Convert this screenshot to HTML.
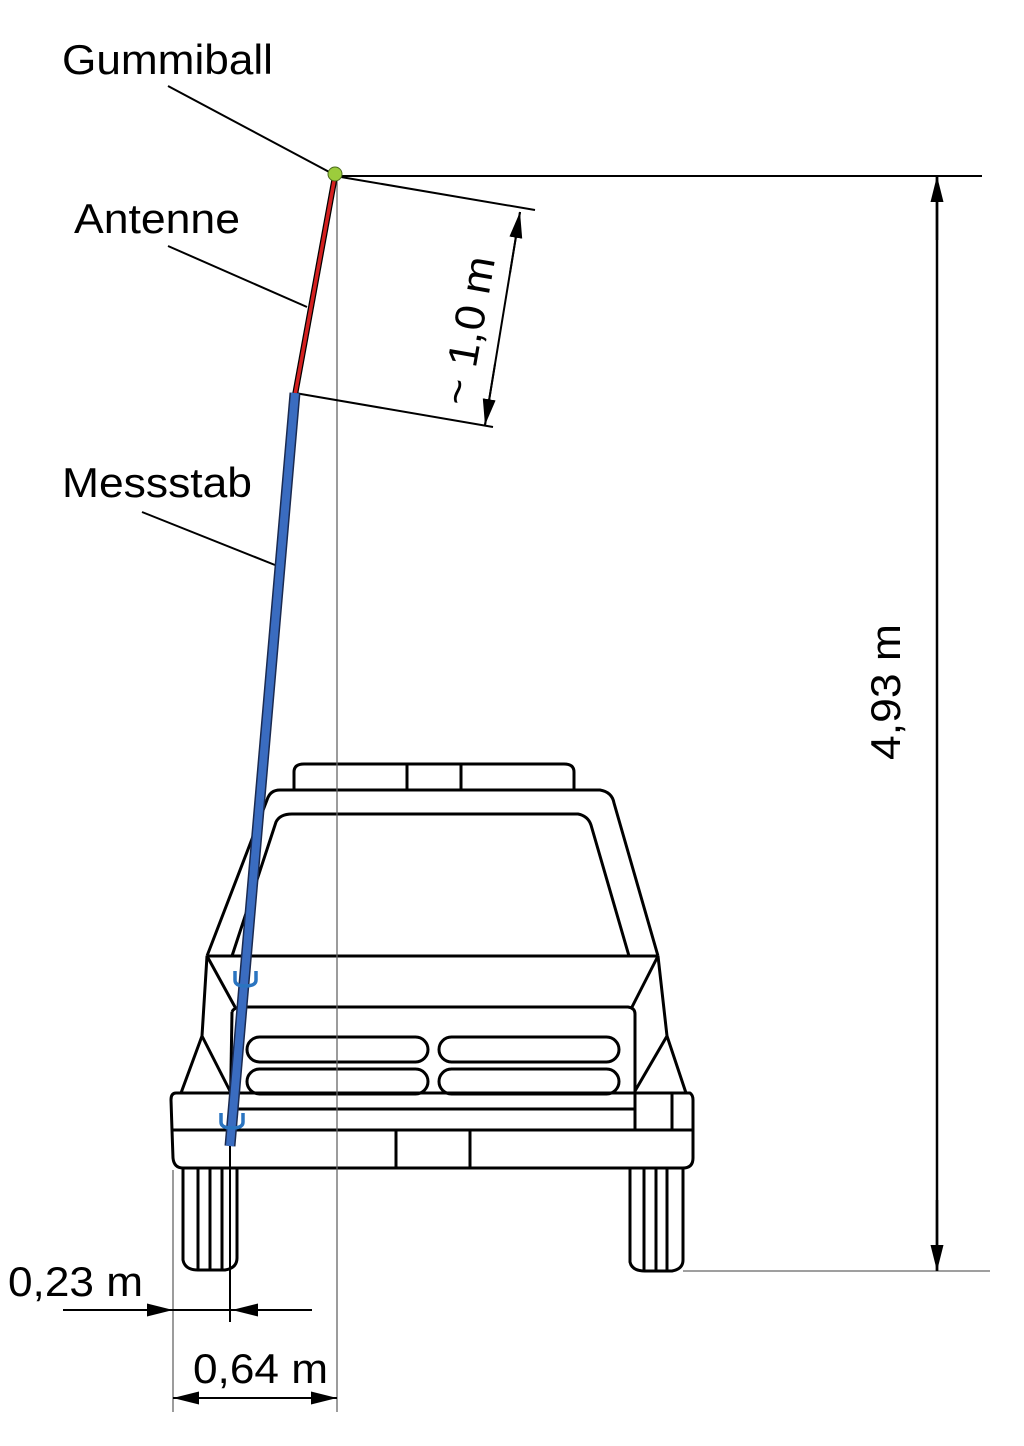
<!DOCTYPE html>
<html><head><meta charset="utf-8"><style>html,body{margin:0;padding:0;background:#fff}svg{display:block}</style></head>
<body>
<svg width="1024" height="1446" viewBox="0 0 1024 1446" xmlns="http://www.w3.org/2000/svg" font-family="Liberation Sans, sans-serif">
<defs>
<marker id="ar" viewBox="0 0 24 12" refX="24" refY="6" markerWidth="26" markerHeight="13" markerUnits="userSpaceOnUse" orient="auto"><path d="M0,0 L24,6 L0,12 z" fill="#000"/></marker>
</defs>
<g fill="none" stroke="#000" stroke-width="3" stroke-linejoin="round">
<path d="M294,789 L294,772 Q294,764 304,764 L564,764 Q574,764 574,772 L574,789"/>
<line x1="407" y1="764" x2="407" y2="789"/><line x1="461" y1="764" x2="461" y2="789"/>
<path d="M207,956 L267,800 Q270,790 280,790 L600,790 Q612,792 614,803 L658,956"/>
<path d="M232,956 L276,822 Q280,814 292,814 L578,814 Q588,816 591,825 L629,956"/>
<line x1="207" y1="956" x2="658" y2="956"/>
<line x1="207" y1="956" x2="235" y2="1007"/><line x1="658" y1="956" x2="632" y2="1007"/>
<path d="M232,1012 Q234,1007 242,1007 L628,1007 Q635,1008 635,1014 L635,1130"/>
<line x1="232" y1="1012" x2="230" y2="1130"/>
<line x1="230" y1="1109" x2="635" y2="1109"/>
<rect x="247" y="1037" width="181" height="25" rx="12.5"/><rect x="439" y="1037" width="180" height="25" rx="12.5"/>
<rect x="247" y="1069" width="181" height="25" rx="12.5"/><rect x="439" y="1069" width="180" height="25" rx="12.5"/>
<path d="M207,956 L202,1036 L181,1093"/><path d="M658,956 L667,1036 L686,1093"/>
<line x1="202" y1="1036" x2="230" y2="1091"/><line x1="667" y1="1036" x2="635" y2="1091"/>
<path d="M176,1093 L690,1093 Q693,1095 693,1100 L693,1130 L693,1158 Q693,1168 683,1168 L183,1168 Q174,1168 173,1158 L172,1130 L171,1100 Q171,1093 176,1093 z"/>
<line x1="173" y1="1130" x2="693" y2="1130"/>
<line x1="672" y1="1093" x2="672" y2="1130"/>
<line x1="396" y1="1130" x2="396" y2="1168"/><line x1="470" y1="1130" x2="470" y2="1168"/>
<path d="M183,1168 L183,1260 Q185,1270 198,1270 L225,1270 Q237,1268 237,1258 L237,1168"/>
<line x1="198" y1="1168" x2="198" y2="1270"/><line x1="210" y1="1168" x2="210" y2="1270"/><line x1="222" y1="1168" x2="222" y2="1270"/>
<path d="M630,1168 L630,1262 Q632,1271 645,1271 L672,1271 Q683,1269 683,1260 L683,1168"/>
<line x1="644" y1="1168" x2="644" y2="1271"/><line x1="656" y1="1168" x2="656" y2="1271"/><line x1="667" y1="1168" x2="667" y2="1271"/>
</g>
<g stroke="#666" stroke-width="1.3">
<line x1="337" y1="176" x2="337" y2="1412"/>
<line x1="173" y1="1170" x2="173" y2="1412"/>
<line x1="683" y1="1271" x2="990" y2="1271"/>
</g>
<g stroke="#000" stroke-width="2">
<line x1="230" y1="1140" x2="230" y2="1322"/>
<line x1="335" y1="176" x2="982" y2="176"/>
<line x1="335" y1="176" x2="535" y2="210"/>
<line x1="295" y1="393" x2="493" y2="427"/>
<line x1="168" y1="86" x2="333" y2="174"/>
<line x1="168" y1="246" x2="307" y2="307"/>
<line x1="142" y1="512" x2="275" y2="565"/>
<line x1="937" y1="176" x2="937" y2="1271" stroke-width="2.5"/>
<line x1="937" y1="240" x2="937" y2="176" stroke-width="2.5" marker-end="url(#ar)"/>
<line x1="937" y1="1200" x2="937" y2="1271" stroke-width="2.5" marker-end="url(#ar)"/>
<line x1="520" y1="212" x2="485" y2="425"/>
<line x1="510" y1="273" x2="520" y2="212" marker-end="url(#ar)"/>
<line x1="495" y1="364" x2="485" y2="425" marker-end="url(#ar)"/>
<line x1="63" y1="1310" x2="173" y2="1310" marker-end="url(#ar)"/>
<line x1="173" y1="1310" x2="232" y2="1310"/>
<line x1="312" y1="1310" x2="232" y2="1310" marker-end="url(#ar)"/>
<line x1="255" y1="1398" x2="173" y2="1398" marker-end="url(#ar)"/>
<line x1="255" y1="1398" x2="337" y2="1398" marker-end="url(#ar)"/>
</g>
<line x1="335" y1="176" x2="295" y2="395" stroke="#000" stroke-width="6"/>
<line x1="335" y1="176" x2="295" y2="395" stroke="#d42020" stroke-width="3.5"/>
<line x1="295" y1="393" x2="230" y2="1146" stroke="#1a2a50" stroke-width="11"/>
<line x1="295" y1="393" x2="230" y2="1146" stroke="#3a6cc0" stroke-width="8"/>
<circle cx="335" cy="174" r="7" fill="#9ccc3c" stroke="#4a6a1a" stroke-width="1"/>
<g fill="none" stroke="#2a74c0" stroke-width="3.5">
<path d="M235,971 L235,980 Q235,986 245,986 Q256,986 256,980 L256,971"/>
<path d="M221,1113 L221,1122 Q221,1128 232,1128 Q243,1128 243,1122 L243,1113"/>
</g>
<g font-size="42" fill="#000">
<text x="62" y="74" textLength="211" lengthAdjust="spacingAndGlyphs">Gummiball</text>
<text x="74" y="233" textLength="166" lengthAdjust="spacingAndGlyphs">Antenne</text>
<text x="62" y="497" textLength="190" lengthAdjust="spacingAndGlyphs">Messstab</text>
<text x="8" y="1296" textLength="135" lengthAdjust="spacingAndGlyphs">0,23 m</text>
<text x="193" y="1383" textLength="135" lengthAdjust="spacingAndGlyphs">0,64 m</text>
<text transform="translate(900,692) rotate(-90)" x="-68" textLength="136" lengthAdjust="spacingAndGlyphs">4,93 m</text>
<text transform="translate(482,333) rotate(-80)" x="-75" textLength="150" lengthAdjust="spacingAndGlyphs">~ 1,0 m</text>
</g>
</svg>
</body></html>
